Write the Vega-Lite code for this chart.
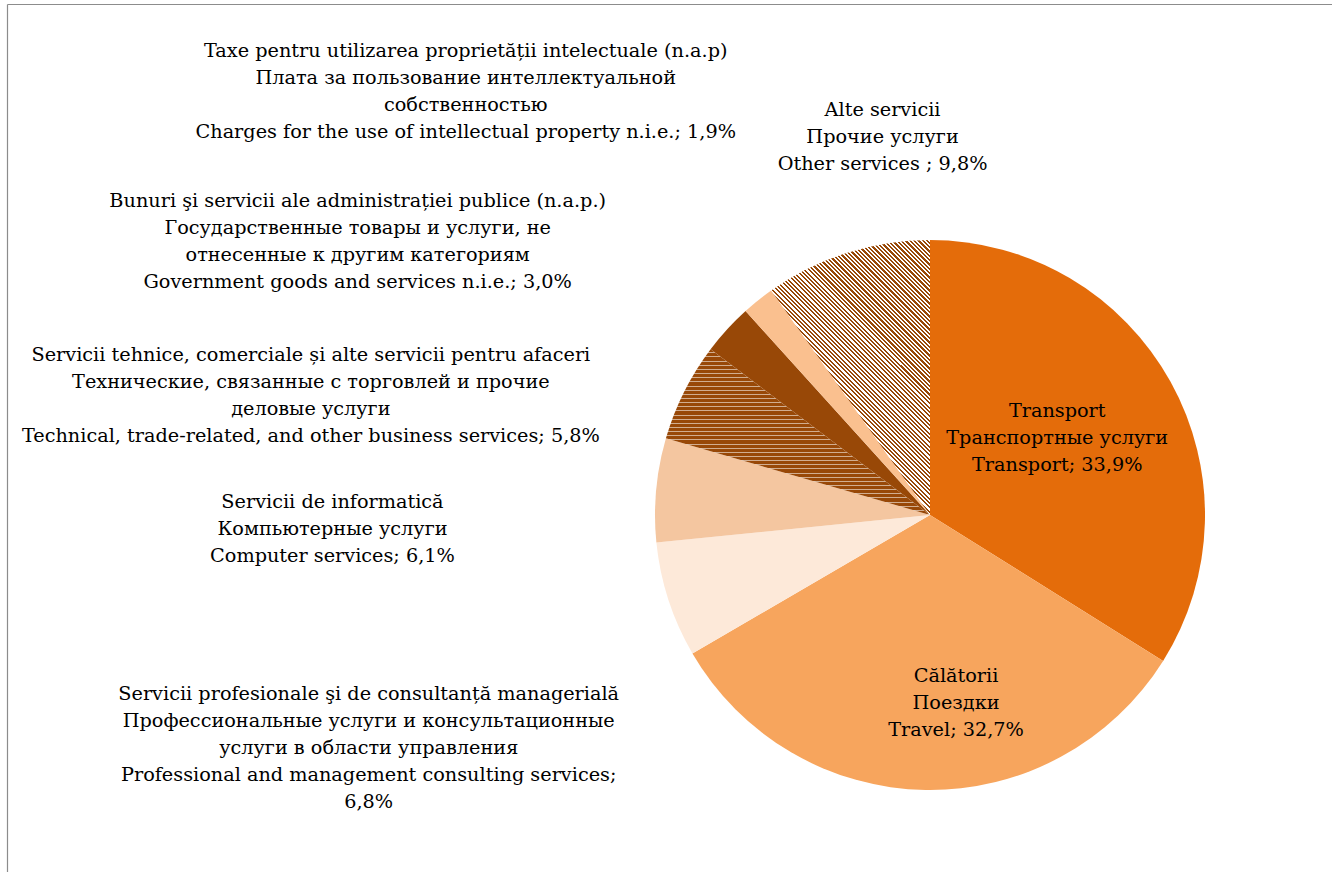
{
  "$schema": "https://vega.github.io/schema/vega-lite/v6.json",
  "width": 1325,
  "height": 868,
  "autosize": {"type": "none"},
  "padding": {"left": 7, "top": 4, "right": 0, "bottom": 0},
  "background": "white",
  "config": {
    "view": {"stroke": null},
    "text": {"font": "DejaVu Serif", "fontSize": 19.25, "lineHeight": 27, "lineBreak": "\n", "color": "#000000"}
  },
  "data": {
    "values": [
      {"cat": "Transport", "order": 1, "value": 33.9, "label": "Transport\nТранспортные услуги\nTransport; 33,9%"},
      {"cat": "Travel", "order": 2, "value": 32.7, "label": "Călătorii\nПоездки\nTravel; 32,7%"},
      {"cat": "Professional", "order": 3, "value": 6.8, "label": "Servicii profesionale şi de consultanță managerială\nПрофессиональные услуги и консультационные\nуслуги в области управления\nProfessional and management consulting services;\n6,8%"},
      {"cat": "Computer", "order": 4, "value": 6.1, "label": "Servicii de informatică\nКомпьютерные услуги\nComputer services; 6,1%"},
      {"cat": "Technical", "order": 5, "value": 5.8, "label": "Servicii tehnice, comerciale și alte servicii pentru afaceri\nТехнические, связанные с торговлей и прочие\nделовые услуги\nTechnical, trade-related, and other business services; 5,8%"},
      {"cat": "Government", "order": 6, "value": 3.0, "label": "Bunuri şi servicii ale administrației publice (n.a.p.)\nГосударственные товары и услуги, не\nотнесенные к другим категориям\nGovernment goods and services n.i.e.; 3,0%"},
      {"cat": "IP", "order": 7, "value": 1.9, "label": "Taxe pentru utilizarea proprietății intelectuale (n.a.p)\nПлата за пользование интеллектуальной\nсобственностью\nCharges for the use of intellectual property n.i.e.; 1,9%"},
      {"cat": "Other", "order": 8, "value": 9.8, "label": "Alte servicii\nПрочие услуги\nOther services ; 9,8%"}
    ]
  },
  "encoding": {
    "x": {"datum": 923, "type": "quantitative", "scale": {"domain": [0, 1325], "nice": false, "zero": false}, "axis": {"orient": "top", "labels": false, "ticks": false, "grid": false, "title": null, "domainColor": "#8c8c8c", "domainWidth": 1.2}},
    "y": {"datum": 511, "type": "quantitative", "scale": {"domain": [868, 0], "nice": false, "zero": false}, "axis": {"orient": "left", "labels": false, "ticks": false, "grid": false, "title": null, "domainColor": "#8c8c8c", "domainWidth": 1.2}},
    "theta": {"field": "value", "type": "quantitative", "stack": true},
    "order": {"field": "order", "type": "quantitative"}
  },
  "layer": [
    {
      "mark": {"type": "arc", "outerRadius": 275},
      "encoding": {
        "fill": {
          "condition": [
          {
            "test": "datum.cat === 'Other'",
            "value": {
              "gradient": "linear", "x1": 0, "y1": 1, "x2": 0.6832, "y2": -0.183,
              "stops": [
{"offset":0,"color":"#984807"},{"offset":0.005,"color":"#984807"},{"offset":0.005,"color":"#fff"},{"offset":0.01,"color":"#fff"},
{"offset":0.01,"color":"#984807"},{"offset":0.015,"color":"#984807"},{"offset":0.015,"color":"#fff"},{"offset":0.02,"color":"#fff"},
{"offset":0.02,"color":"#984807"},{"offset":0.025,"color":"#984807"},{"offset":0.025,"color":"#fff"},{"offset":0.03,"color":"#fff"},
{"offset":0.03,"color":"#984807"},{"offset":0.035,"color":"#984807"},{"offset":0.035,"color":"#fff"},{"offset":0.04,"color":"#fff"},
{"offset":0.04,"color":"#984807"},{"offset":0.045,"color":"#984807"},{"offset":0.045,"color":"#fff"},{"offset":0.05,"color":"#fff"},
{"offset":0.05,"color":"#984807"},{"offset":0.055,"color":"#984807"},{"offset":0.055,"color":"#fff"},{"offset":0.06,"color":"#fff"},
{"offset":0.06,"color":"#984807"},{"offset":0.065,"color":"#984807"},{"offset":0.065,"color":"#fff"},{"offset":0.07,"color":"#fff"},
{"offset":0.07,"color":"#984807"},{"offset":0.075,"color":"#984807"},{"offset":0.075,"color":"#fff"},{"offset":0.08,"color":"#fff"},
{"offset":0.08,"color":"#984807"},{"offset":0.085,"color":"#984807"},{"offset":0.085,"color":"#fff"},{"offset":0.09,"color":"#fff"},
{"offset":0.09,"color":"#984807"},{"offset":0.095,"color":"#984807"},{"offset":0.095,"color":"#fff"},{"offset":0.1,"color":"#fff"},
{"offset":0.1,"color":"#984807"},{"offset":0.105,"color":"#984807"},{"offset":0.105,"color":"#fff"},{"offset":0.11,"color":"#fff"},
{"offset":0.11,"color":"#984807"},{"offset":0.115,"color":"#984807"},{"offset":0.115,"color":"#fff"},{"offset":0.12,"color":"#fff"},
{"offset":0.12,"color":"#984807"},{"offset":0.125,"color":"#984807"},{"offset":0.125,"color":"#fff"},{"offset":0.13,"color":"#fff"},
{"offset":0.13,"color":"#984807"},{"offset":0.135,"color":"#984807"},{"offset":0.135,"color":"#fff"},{"offset":0.14,"color":"#fff"},
{"offset":0.14,"color":"#984807"},{"offset":0.145,"color":"#984807"},{"offset":0.145,"color":"#fff"},{"offset":0.15,"color":"#fff"},
{"offset":0.15,"color":"#984807"},{"offset":0.155,"color":"#984807"},{"offset":0.155,"color":"#fff"},{"offset":0.16,"color":"#fff"},
{"offset":0.16,"color":"#984807"},{"offset":0.165,"color":"#984807"},{"offset":0.165,"color":"#fff"},{"offset":0.17,"color":"#fff"},
{"offset":0.17,"color":"#984807"},{"offset":0.175,"color":"#984807"},{"offset":0.175,"color":"#fff"},{"offset":0.18,"color":"#fff"},
{"offset":0.18,"color":"#984807"},{"offset":0.185,"color":"#984807"},{"offset":0.185,"color":"#fff"},{"offset":0.19,"color":"#fff"},
{"offset":0.19,"color":"#984807"},{"offset":0.195,"color":"#984807"},{"offset":0.195,"color":"#fff"},{"offset":0.2,"color":"#fff"},
{"offset":0.2,"color":"#984807"},{"offset":0.205,"color":"#984807"},{"offset":0.205,"color":"#fff"},{"offset":0.21,"color":"#fff"},
{"offset":0.21,"color":"#984807"},{"offset":0.215,"color":"#984807"},{"offset":0.215,"color":"#fff"},{"offset":0.22,"color":"#fff"},
{"offset":0.22,"color":"#984807"},{"offset":0.225,"color":"#984807"},{"offset":0.225,"color":"#fff"},{"offset":0.23,"color":"#fff"},
{"offset":0.23,"color":"#984807"},{"offset":0.235,"color":"#984807"},{"offset":0.235,"color":"#fff"},{"offset":0.24,"color":"#fff"},
{"offset":0.24,"color":"#984807"},{"offset":0.245,"color":"#984807"},{"offset":0.245,"color":"#fff"},{"offset":0.25,"color":"#fff"},
{"offset":0.25,"color":"#984807"},{"offset":0.255,"color":"#984807"},{"offset":0.255,"color":"#fff"},{"offset":0.26,"color":"#fff"},
{"offset":0.26,"color":"#984807"},{"offset":0.265,"color":"#984807"},{"offset":0.265,"color":"#fff"},{"offset":0.27,"color":"#fff"},
{"offset":0.27,"color":"#984807"},{"offset":0.275,"color":"#984807"},{"offset":0.275,"color":"#fff"},{"offset":0.28,"color":"#fff"},
{"offset":0.28,"color":"#984807"},{"offset":0.285,"color":"#984807"},{"offset":0.285,"color":"#fff"},{"offset":0.29,"color":"#fff"},
{"offset":0.29,"color":"#984807"},{"offset":0.295,"color":"#984807"},{"offset":0.295,"color":"#fff"},{"offset":0.3,"color":"#fff"},
{"offset":0.3,"color":"#984807"},{"offset":0.305,"color":"#984807"},{"offset":0.305,"color":"#fff"},{"offset":0.31,"color":"#fff"},
{"offset":0.31,"color":"#984807"},{"offset":0.315,"color":"#984807"},{"offset":0.315,"color":"#fff"},{"offset":0.32,"color":"#fff"},
{"offset":0.32,"color":"#984807"},{"offset":0.325,"color":"#984807"},{"offset":0.325,"color":"#fff"},{"offset":0.33,"color":"#fff"},
{"offset":0.33,"color":"#984807"},{"offset":0.335,"color":"#984807"},{"offset":0.335,"color":"#fff"},{"offset":0.34,"color":"#fff"},
{"offset":0.34,"color":"#984807"},{"offset":0.345,"color":"#984807"},{"offset":0.345,"color":"#fff"},{"offset":0.35,"color":"#fff"},
{"offset":0.35,"color":"#984807"},{"offset":0.355,"color":"#984807"},{"offset":0.355,"color":"#fff"},{"offset":0.36,"color":"#fff"},
{"offset":0.36,"color":"#984807"},{"offset":0.365,"color":"#984807"},{"offset":0.365,"color":"#fff"},{"offset":0.37,"color":"#fff"},
{"offset":0.37,"color":"#984807"},{"offset":0.375,"color":"#984807"},{"offset":0.375,"color":"#fff"},{"offset":0.38,"color":"#fff"},
{"offset":0.38,"color":"#984807"},{"offset":0.385,"color":"#984807"},{"offset":0.385,"color":"#fff"},{"offset":0.39,"color":"#fff"},
{"offset":0.39,"color":"#984807"},{"offset":0.395,"color":"#984807"},{"offset":0.395,"color":"#fff"},{"offset":0.4,"color":"#fff"},
{"offset":0.4,"color":"#984807"},{"offset":0.405,"color":"#984807"},{"offset":0.405,"color":"#fff"},{"offset":0.41,"color":"#fff"},
{"offset":0.41,"color":"#984807"},{"offset":0.415,"color":"#984807"},{"offset":0.415,"color":"#fff"},{"offset":0.42,"color":"#fff"},
{"offset":0.42,"color":"#984807"},{"offset":0.425,"color":"#984807"},{"offset":0.425,"color":"#fff"},{"offset":0.43,"color":"#fff"},
{"offset":0.43,"color":"#984807"},{"offset":0.435,"color":"#984807"},{"offset":0.435,"color":"#fff"},{"offset":0.44,"color":"#fff"},
{"offset":0.44,"color":"#984807"},{"offset":0.445,"color":"#984807"},{"offset":0.445,"color":"#fff"},{"offset":0.45,"color":"#fff"},
{"offset":0.45,"color":"#984807"},{"offset":0.455,"color":"#984807"},{"offset":0.455,"color":"#fff"},{"offset":0.46,"color":"#fff"},
{"offset":0.46,"color":"#984807"},{"offset":0.465,"color":"#984807"},{"offset":0.465,"color":"#fff"},{"offset":0.47,"color":"#fff"},
{"offset":0.47,"color":"#984807"},{"offset":0.475,"color":"#984807"},{"offset":0.475,"color":"#fff"},{"offset":0.48,"color":"#fff"},
{"offset":0.48,"color":"#984807"},{"offset":0.485,"color":"#984807"},{"offset":0.485,"color":"#fff"},{"offset":0.49,"color":"#fff"},
{"offset":0.49,"color":"#984807"},{"offset":0.495,"color":"#984807"},{"offset":0.495,"color":"#fff"},{"offset":0.5,"color":"#fff"},
{"offset":0.5,"color":"#984807"},{"offset":0.505,"color":"#984807"},{"offset":0.505,"color":"#fff"},{"offset":0.51,"color":"#fff"},
{"offset":0.51,"color":"#984807"},{"offset":0.515,"color":"#984807"},{"offset":0.515,"color":"#fff"},{"offset":0.52,"color":"#fff"},
{"offset":0.52,"color":"#984807"},{"offset":0.525,"color":"#984807"},{"offset":0.525,"color":"#fff"},{"offset":0.53,"color":"#fff"},
{"offset":0.53,"color":"#984807"},{"offset":0.535,"color":"#984807"},{"offset":0.535,"color":"#fff"},{"offset":0.54,"color":"#fff"},
{"offset":0.54,"color":"#984807"},{"offset":0.545,"color":"#984807"},{"offset":0.545,"color":"#fff"},{"offset":0.55,"color":"#fff"},
{"offset":0.55,"color":"#984807"},{"offset":0.555,"color":"#984807"},{"offset":0.555,"color":"#fff"},{"offset":0.56,"color":"#fff"},
{"offset":0.56,"color":"#984807"},{"offset":0.565,"color":"#984807"},{"offset":0.565,"color":"#fff"},{"offset":0.57,"color":"#fff"},
{"offset":0.57,"color":"#984807"},{"offset":0.575,"color":"#984807"},{"offset":0.575,"color":"#fff"},{"offset":0.58,"color":"#fff"},
{"offset":0.58,"color":"#984807"},{"offset":0.585,"color":"#984807"},{"offset":0.585,"color":"#fff"},{"offset":0.59,"color":"#fff"},
{"offset":0.59,"color":"#984807"},{"offset":0.595,"color":"#984807"},{"offset":0.595,"color":"#fff"},{"offset":0.6,"color":"#fff"},
{"offset":0.6,"color":"#984807"},{"offset":0.605,"color":"#984807"},{"offset":0.605,"color":"#fff"},{"offset":0.61,"color":"#fff"},
{"offset":0.61,"color":"#984807"},{"offset":0.615,"color":"#984807"},{"offset":0.615,"color":"#fff"},{"offset":0.62,"color":"#fff"},
{"offset":0.62,"color":"#984807"},{"offset":0.625,"color":"#984807"},{"offset":0.625,"color":"#fff"},{"offset":0.63,"color":"#fff"},
{"offset":0.63,"color":"#984807"},{"offset":0.635,"color":"#984807"},{"offset":0.635,"color":"#fff"},{"offset":0.64,"color":"#fff"},
{"offset":0.64,"color":"#984807"},{"offset":0.645,"color":"#984807"},{"offset":0.645,"color":"#fff"},{"offset":0.65,"color":"#fff"},
{"offset":0.65,"color":"#984807"},{"offset":0.655,"color":"#984807"},{"offset":0.655,"color":"#fff"},{"offset":0.66,"color":"#fff"},
{"offset":0.66,"color":"#984807"},{"offset":0.665,"color":"#984807"},{"offset":0.665,"color":"#fff"},{"offset":0.67,"color":"#fff"},
{"offset":0.67,"color":"#984807"},{"offset":0.675,"color":"#984807"},{"offset":0.675,"color":"#fff"},{"offset":0.68,"color":"#fff"},
{"offset":0.68,"color":"#984807"},{"offset":0.685,"color":"#984807"},{"offset":0.685,"color":"#fff"},{"offset":0.69,"color":"#fff"},
{"offset":0.69,"color":"#984807"},{"offset":0.695,"color":"#984807"},{"offset":0.695,"color":"#fff"},{"offset":0.7,"color":"#fff"},
{"offset":0.7,"color":"#984807"},{"offset":0.705,"color":"#984807"},{"offset":0.705,"color":"#fff"},{"offset":0.71,"color":"#fff"},
{"offset":0.71,"color":"#984807"},{"offset":0.715,"color":"#984807"},{"offset":0.715,"color":"#fff"},{"offset":0.72,"color":"#fff"},
{"offset":0.72,"color":"#984807"},{"offset":0.725,"color":"#984807"},{"offset":0.725,"color":"#fff"},{"offset":0.73,"color":"#fff"},
{"offset":0.73,"color":"#984807"},{"offset":0.735,"color":"#984807"},{"offset":0.735,"color":"#fff"},{"offset":0.74,"color":"#fff"},
{"offset":0.74,"color":"#984807"},{"offset":0.745,"color":"#984807"},{"offset":0.745,"color":"#fff"},{"offset":0.75,"color":"#fff"},
{"offset":0.75,"color":"#984807"},{"offset":0.755,"color":"#984807"},{"offset":0.755,"color":"#fff"},{"offset":0.76,"color":"#fff"},
{"offset":0.76,"color":"#984807"},{"offset":0.765,"color":"#984807"},{"offset":0.765,"color":"#fff"},{"offset":0.77,"color":"#fff"},
{"offset":0.77,"color":"#984807"},{"offset":0.775,"color":"#984807"},{"offset":0.775,"color":"#fff"},{"offset":0.78,"color":"#fff"},
{"offset":0.78,"color":"#984807"},{"offset":0.785,"color":"#984807"},{"offset":0.785,"color":"#fff"},{"offset":0.79,"color":"#fff"},
{"offset":0.79,"color":"#984807"},{"offset":0.795,"color":"#984807"},{"offset":0.795,"color":"#fff"},{"offset":0.8,"color":"#fff"},
{"offset":0.8,"color":"#984807"},{"offset":0.805,"color":"#984807"},{"offset":0.805,"color":"#fff"},{"offset":0.81,"color":"#fff"},
{"offset":0.81,"color":"#984807"},{"offset":0.815,"color":"#984807"},{"offset":0.815,"color":"#fff"},{"offset":0.82,"color":"#fff"},
{"offset":0.82,"color":"#984807"},{"offset":0.825,"color":"#984807"},{"offset":0.825,"color":"#fff"},{"offset":0.83,"color":"#fff"},
{"offset":0.83,"color":"#984807"},{"offset":0.835,"color":"#984807"},{"offset":0.835,"color":"#fff"},{"offset":0.84,"color":"#fff"},
{"offset":0.84,"color":"#984807"},{"offset":0.845,"color":"#984807"},{"offset":0.845,"color":"#fff"},{"offset":0.85,"color":"#fff"},
{"offset":0.85,"color":"#984807"},{"offset":0.855,"color":"#984807"},{"offset":0.855,"color":"#fff"},{"offset":0.86,"color":"#fff"},
{"offset":0.86,"color":"#984807"},{"offset":0.865,"color":"#984807"},{"offset":0.865,"color":"#fff"},{"offset":0.87,"color":"#fff"},
{"offset":0.87,"color":"#984807"},{"offset":0.875,"color":"#984807"},{"offset":0.875,"color":"#fff"},{"offset":0.88,"color":"#fff"},
{"offset":0.88,"color":"#984807"},{"offset":0.885,"color":"#984807"},{"offset":0.885,"color":"#fff"},{"offset":0.89,"color":"#fff"},
{"offset":0.89,"color":"#984807"},{"offset":0.895,"color":"#984807"},{"offset":0.895,"color":"#fff"},{"offset":0.9,"color":"#fff"},
{"offset":0.9,"color":"#984807"},{"offset":0.905,"color":"#984807"},{"offset":0.905,"color":"#fff"},{"offset":0.91,"color":"#fff"},
{"offset":0.91,"color":"#984807"},{"offset":0.915,"color":"#984807"},{"offset":0.915,"color":"#fff"},{"offset":0.92,"color":"#fff"},
{"offset":0.92,"color":"#984807"},{"offset":0.925,"color":"#984807"},{"offset":0.925,"color":"#fff"},{"offset":0.93,"color":"#fff"},
{"offset":0.93,"color":"#984807"},{"offset":0.935,"color":"#984807"},{"offset":0.935,"color":"#fff"},{"offset":0.94,"color":"#fff"},
{"offset":0.94,"color":"#984807"},{"offset":0.945,"color":"#984807"},{"offset":0.945,"color":"#fff"},{"offset":0.95,"color":"#fff"},
{"offset":0.95,"color":"#984807"},{"offset":0.955,"color":"#984807"},{"offset":0.955,"color":"#fff"},{"offset":0.96,"color":"#fff"},
{"offset":0.96,"color":"#984807"},{"offset":0.965,"color":"#984807"},{"offset":0.965,"color":"#fff"},{"offset":0.97,"color":"#fff"},
{"offset":0.97,"color":"#984807"},{"offset":0.975,"color":"#984807"},{"offset":0.975,"color":"#fff"},{"offset":0.98,"color":"#fff"},
{"offset":0.98,"color":"#984807"},{"offset":0.985,"color":"#984807"},{"offset":0.985,"color":"#fff"},{"offset":0.99,"color":"#fff"},
{"offset":0.99,"color":"#984807"},{"offset":0.995,"color":"#984807"},{"offset":0.995,"color":"#fff"},{"offset":1,"color":"#fff"}
              ]
            }
          },
          {
            "test": "datum.cat === 'Technical'",
            "value": {
              "gradient": "linear", "x1": 0, "y1": 0, "x2": 0, "y2": 1,
              "stops": [
{"offset":0,"color":"#984807"},{"offset":0.019,"color":"#984807"},{"offset":0.019,"color":"#D1AD8F"},{"offset":0.025,"color":"#D1AD8F"},
{"offset":0.025,"color":"#984807"},{"offset":0.044,"color":"#984807"},{"offset":0.044,"color":"#D1AD8F"},{"offset":0.05,"color":"#D1AD8F"},
{"offset":0.05,"color":"#984807"},{"offset":0.069,"color":"#984807"},{"offset":0.069,"color":"#D1AD8F"},{"offset":0.075,"color":"#D1AD8F"},
{"offset":0.075,"color":"#984807"},{"offset":0.094,"color":"#984807"},{"offset":0.094,"color":"#D1AD8F"},{"offset":0.1,"color":"#D1AD8F"},
{"offset":0.1,"color":"#984807"},{"offset":0.119,"color":"#984807"},{"offset":0.119,"color":"#D1AD8F"},{"offset":0.125,"color":"#D1AD8F"},
{"offset":0.125,"color":"#984807"},{"offset":0.144,"color":"#984807"},{"offset":0.144,"color":"#D1AD8F"},{"offset":0.15,"color":"#D1AD8F"},
{"offset":0.15,"color":"#984807"},{"offset":0.169,"color":"#984807"},{"offset":0.169,"color":"#D1AD8F"},{"offset":0.175,"color":"#D1AD8F"},
{"offset":0.175,"color":"#984807"},{"offset":0.194,"color":"#984807"},{"offset":0.194,"color":"#D1AD8F"},{"offset":0.2,"color":"#D1AD8F"},
{"offset":0.2,"color":"#984807"},{"offset":0.219,"color":"#984807"},{"offset":0.219,"color":"#D1AD8F"},{"offset":0.225,"color":"#D1AD8F"},
{"offset":0.225,"color":"#984807"},{"offset":0.244,"color":"#984807"},{"offset":0.244,"color":"#D1AD8F"},{"offset":0.25,"color":"#D1AD8F"},
{"offset":0.25,"color":"#984807"},{"offset":0.269,"color":"#984807"},{"offset":0.269,"color":"#D1AD8F"},{"offset":0.275,"color":"#D1AD8F"},
{"offset":0.275,"color":"#984807"},{"offset":0.294,"color":"#984807"},{"offset":0.294,"color":"#D1AD8F"},{"offset":0.3,"color":"#D1AD8F"},
{"offset":0.3,"color":"#984807"},{"offset":0.319,"color":"#984807"},{"offset":0.319,"color":"#D1AD8F"},{"offset":0.325,"color":"#D1AD8F"},
{"offset":0.325,"color":"#984807"},{"offset":0.344,"color":"#984807"},{"offset":0.344,"color":"#D1AD8F"},{"offset":0.35,"color":"#D1AD8F"},
{"offset":0.35,"color":"#984807"},{"offset":0.369,"color":"#984807"},{"offset":0.369,"color":"#D1AD8F"},{"offset":0.375,"color":"#D1AD8F"},
{"offset":0.375,"color":"#984807"},{"offset":0.394,"color":"#984807"},{"offset":0.394,"color":"#D1AD8F"},{"offset":0.4,"color":"#D1AD8F"},
{"offset":0.4,"color":"#984807"},{"offset":0.419,"color":"#984807"},{"offset":0.419,"color":"#D1AD8F"},{"offset":0.425,"color":"#D1AD8F"},
{"offset":0.425,"color":"#984807"},{"offset":0.444,"color":"#984807"},{"offset":0.444,"color":"#D1AD8F"},{"offset":0.45,"color":"#D1AD8F"},
{"offset":0.45,"color":"#984807"},{"offset":0.469,"color":"#984807"},{"offset":0.469,"color":"#D1AD8F"},{"offset":0.475,"color":"#D1AD8F"},
{"offset":0.475,"color":"#984807"},{"offset":0.494,"color":"#984807"},{"offset":0.494,"color":"#D1AD8F"},{"offset":0.5,"color":"#D1AD8F"},
{"offset":0.5,"color":"#984807"},{"offset":0.519,"color":"#984807"},{"offset":0.519,"color":"#D1AD8F"},{"offset":0.525,"color":"#D1AD8F"},
{"offset":0.525,"color":"#984807"},{"offset":0.544,"color":"#984807"},{"offset":0.544,"color":"#D1AD8F"},{"offset":0.55,"color":"#D1AD8F"},
{"offset":0.55,"color":"#984807"},{"offset":0.569,"color":"#984807"},{"offset":0.569,"color":"#D1AD8F"},{"offset":0.575,"color":"#D1AD8F"},
{"offset":0.575,"color":"#984807"},{"offset":0.594,"color":"#984807"},{"offset":0.594,"color":"#D1AD8F"},{"offset":0.6,"color":"#D1AD8F"},
{"offset":0.6,"color":"#984807"},{"offset":0.619,"color":"#984807"},{"offset":0.619,"color":"#D1AD8F"},{"offset":0.625,"color":"#D1AD8F"},
{"offset":0.625,"color":"#984807"},{"offset":0.644,"color":"#984807"},{"offset":0.644,"color":"#D1AD8F"},{"offset":0.65,"color":"#D1AD8F"},
{"offset":0.65,"color":"#984807"},{"offset":0.669,"color":"#984807"},{"offset":0.669,"color":"#D1AD8F"},{"offset":0.675,"color":"#D1AD8F"},
{"offset":0.675,"color":"#984807"},{"offset":0.694,"color":"#984807"},{"offset":0.694,"color":"#D1AD8F"},{"offset":0.7,"color":"#D1AD8F"},
{"offset":0.7,"color":"#984807"},{"offset":0.719,"color":"#984807"},{"offset":0.719,"color":"#D1AD8F"},{"offset":0.725,"color":"#D1AD8F"},
{"offset":0.725,"color":"#984807"},{"offset":0.744,"color":"#984807"},{"offset":0.744,"color":"#D1AD8F"},{"offset":0.75,"color":"#D1AD8F"},
{"offset":0.75,"color":"#984807"},{"offset":0.769,"color":"#984807"},{"offset":0.769,"color":"#D1AD8F"},{"offset":0.775,"color":"#D1AD8F"},
{"offset":0.775,"color":"#984807"},{"offset":0.794,"color":"#984807"},{"offset":0.794,"color":"#D1AD8F"},{"offset":0.8,"color":"#D1AD8F"},
{"offset":0.8,"color":"#984807"},{"offset":0.819,"color":"#984807"},{"offset":0.819,"color":"#D1AD8F"},{"offset":0.825,"color":"#D1AD8F"},
{"offset":0.825,"color":"#984807"},{"offset":0.844,"color":"#984807"},{"offset":0.844,"color":"#D1AD8F"},{"offset":0.85,"color":"#D1AD8F"},
{"offset":0.85,"color":"#984807"},{"offset":0.869,"color":"#984807"},{"offset":0.869,"color":"#D1AD8F"},{"offset":0.875,"color":"#D1AD8F"},
{"offset":0.875,"color":"#984807"},{"offset":0.894,"color":"#984807"},{"offset":0.894,"color":"#D1AD8F"},{"offset":0.9,"color":"#D1AD8F"},
{"offset":0.9,"color":"#984807"},{"offset":0.919,"color":"#984807"},{"offset":0.919,"color":"#D1AD8F"},{"offset":0.925,"color":"#D1AD8F"},
{"offset":0.925,"color":"#984807"},{"offset":0.944,"color":"#984807"},{"offset":0.944,"color":"#D1AD8F"},{"offset":0.95,"color":"#D1AD8F"},
{"offset":0.95,"color":"#984807"},{"offset":0.969,"color":"#984807"},{"offset":0.969,"color":"#D1AD8F"},{"offset":0.975,"color":"#D1AD8F"},
{"offset":0.975,"color":"#984807"},{"offset":0.994,"color":"#984807"},{"offset":0.994,"color":"#D1AD8F"},{"offset":1,"color":"#D1AD8F"}
              ]
            }
          }
          ],
          "field": "cat", "type": "nominal", "legend": null,
          "scale": {
            "domain": ["Transport", "Travel", "Professional", "Computer", "Technical", "Government", "IP", "Other"],
            "range": ["#E46C0A", "#F7A55D", "#FDE9D9", "#F4C6A0", "#AF703E", "#984807", "#FAC08F", "#C1916A"]
          }
        }
      }
    },
    {
      "mark": {"type": "text", "radius": 150, "dx": -4, "dy": -31.5, "align": "center", "baseline": "middle"},
      "encoding": {"text": {"condition": {"test": "datum.cat === 'Transport'", "field": "label"}, "value": ""}}
    },
    {
      "mark": {"type": "text", "radius": 188, "dx": 29, "dy": -27, "align": "center", "baseline": "middle"},
      "encoding": {"text": {"condition": {"test": "datum.cat === 'Travel'", "field": "label"}, "value": ""}}
    },
    {
      "mark": {"type": "text", "radius": 607, "dx": 16, "dy": -8.5, "align": "center", "baseline": "middle"},
      "encoding": {"text": {"condition": {"test": "datum.cat === 'Professional'", "field": "label"}, "value": ""}}
    },
    {
      "mark": {"type": "text", "radius": 598, "dx": -2, "dy": 41.5, "align": "center", "baseline": "middle"},
      "encoding": {"text": {"condition": {"test": "datum.cat === 'Computer'", "field": "label"}, "value": ""}}
    },
    {
      "mark": {"type": "text", "radius": 630, "dx": -56, "dy": 122.5, "align": "center", "baseline": "middle"},
      "encoding": {"text": {"condition": {"test": "datum.cat === 'Technical'", "field": "label"}, "value": ""}}
    },
    {
      "mark": {"type": "text", "radius": 635, "dx": -104, "dy": 114.5, "align": "center", "baseline": "middle"},
      "encoding": {"text": {"condition": {"test": "datum.cat === 'Government'", "field": "label"}, "value": ""}}
    },
    {
      "mark": {"type": "text", "radius": 629, "dx": -71, "dy": 27, "align": "center", "baseline": "middle"},
      "encoding": {"text": {"condition": {"test": "datum.cat === 'IP'", "field": "label"}, "value": ""}}
    },
    {
      "mark": {"type": "text", "radius": 381, "dx": 68, "dy": -41.5, "align": "center", "baseline": "middle"},
      "encoding": {"text": {"condition": {"test": "datum.cat === 'Other'", "field": "label"}, "value": ""}}
    }
  ]
}
